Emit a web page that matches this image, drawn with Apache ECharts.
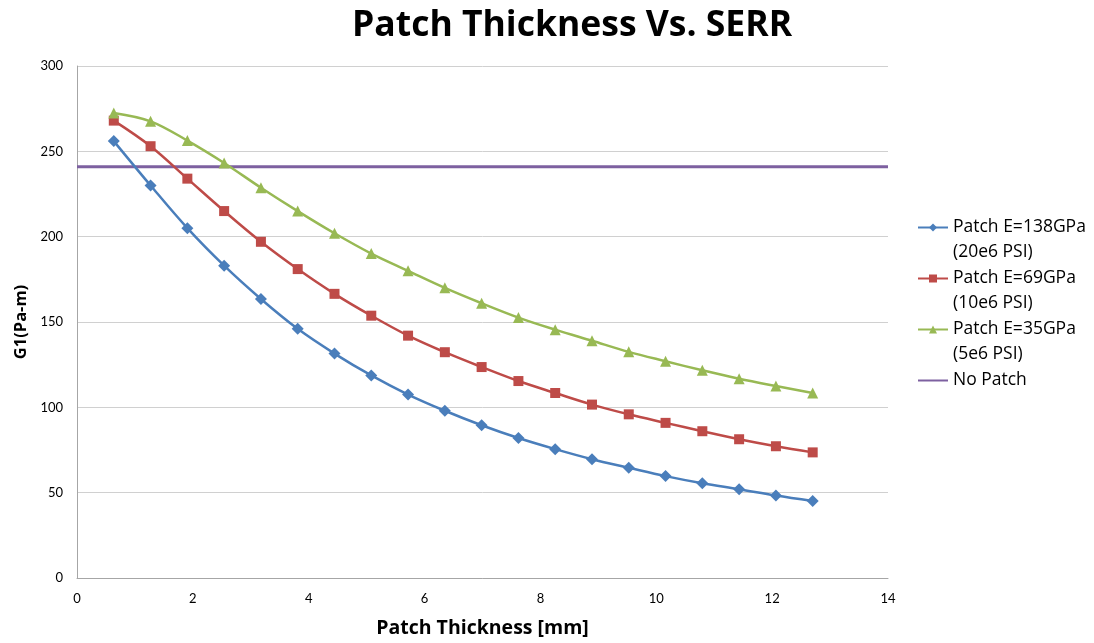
<!DOCTYPE html>
<html>
<head>
<meta charset="utf-8">
<title>Patch Thickness Vs. SERR</title>
<script src="https://cdn.jsdelivr.net/npm/echarts@6/dist/echarts.min.js"></script>
<style>
  html, body { margin: 0; padding: 0; background: #ffffff; }
  #chart { width: 1094px; height: 643px; }
</style>
</head>
<body>
<div id="chart"></div>
<script>
// Patch thickness in mm (0.025 in steps)
const thickness = [0.635, 1.27, 1.905, 2.54, 3.175, 3.81, 4.445, 5.08, 5.715, 6.35,
                   6.985, 7.62, 8.255, 8.89, 9.525, 10.16, 10.795, 11.43, 12.065, 12.7];

// Strain energy release rate G1 (Pa-m) for each patch stiffness
const g1E138 = [256, 230, 205, 183, 163.5, 146, 131.5, 118.7, 107.5, 98,
                89.5, 82, 75.5, 69.6, 64.6, 59.7, 55.5, 52, 48.3, 45.1];
const g1E69  = [268, 253, 234, 215, 197, 181, 166.5, 153.7, 142, 132.3,
                123.6, 115.4, 108.4, 101.6, 95.9, 90.9, 86, 81.3, 77.2, 73.6];
const g1E35  = [272.5, 267.6, 256.3, 243.2, 228.7, 215, 202, 190.1, 180, 170,
                161, 152.6, 145.5, 139, 132.5, 127, 121.7, 116.8, 112.5, 108.4];

// Unpatched reference level across the whole axis
const noPatchX = [0, 14];
const noPatchG1 = 241;

const seriesNames = ['Patch E=138GPa\n(20e6 PSI)', 'Patch E=69GPa\n(10e6 PSI)',
                     'Patch E=35GPa\n(5e6 PSI)', 'No Patch'];
const xTicks = { min: 0, max: 14, interval: 2 };
const yTicks = { min: 0, max: 300, interval: 50 };

const FONT = '"Open Sans", Lato, sans-serif';
const TICK_FONT = 'Lato, "Open Sans", sans-serif';
const pair = (xs, ys) => xs.map((x, i) => [x, ys[i]]);

const chart = echarts.init(document.getElementById('chart'), null, { renderer: 'canvas' });

function curve(name, values, color, symbol, size) {
  return {
    name: name,
    type: 'line',
    data: pair(thickness, values),
    smooth: 0.35,
    symbol: symbol,
    symbolSize: size,
    showAllSymbol: true,
    lineStyle: { color: color, width: 2.5 },
    itemStyle: { color: color },
    z: 3
  };
}

chart.setOption({
  animation: false,
  backgroundColor: '#ffffff',
  title: {
    text: 'Patch Thickness Vs. SERR',
    left: 347,
    top: 3,
    textStyle: { fontFamily: FONT, fontWeight: 'bold', fontSize: 35.5, color: '#000000' }
  },
  grid: { left: 77, right: 206, top: 66, bottom: 63, containLabel: false },
  legend: {
    orient: 'vertical',
    left: 917,
    top: 190,
    padding: 0,
    itemGap: -24,
    itemWidth: 30,
    itemHeight: 10,
    // a blank leading line keeps the first text line level with the icon
    formatter: function (name) {
      return name.indexOf('\n') >= 0 ? '\n' + name : '\n' + name + '\n';
    },
    textStyle: { fontFamily: FONT, fontSize: 17.5, color: '#000000', lineHeight: 25 },
    data: [
      seriesNames[0], seriesNames[1], seriesNames[2],
      { name: seriesNames[3], itemStyle: { opacity: 0 } }
    ]
  },
  xAxis: {
    type: 'value',
    min: xTicks.min, max: xTicks.max, interval: xTicks.interval,
    name: 'Patch Thickness [mm]',
    nameLocation: 'middle',
    nameGap: 40,
    nameTextStyle: { fontFamily: FONT, fontWeight: 'bold', fontSize: 19.5, color: '#000000' },
    axisLine: { show: true, lineStyle: { color: '#a6a6a6', width: 1 } },
    axisTick: { show: false },
    axisLabel: { fontFamily: TICK_FONT, fontSize: 13, color: '#000000', margin: 14 },
    splitLine: { show: false }
  },
  yAxis: {
    type: 'value',
    min: yTicks.min, max: yTicks.max, interval: yTicks.interval,
    name: 'G1(Pa-m)',
    nameLocation: 'middle',
    nameGap: 47,
    nameTextStyle: { fontFamily: FONT, fontWeight: 'bold', fontSize: 16.5, color: '#000000' },
    axisLine: { show: true, lineStyle: { color: '#a6a6a6', width: 1 } },
    axisTick: { show: false },
    axisLabel: { fontFamily: TICK_FONT, fontSize: 13, color: '#000000', margin: 14 },
    splitLine: { show: true, lineStyle: { color: '#d0d0d0', width: 1 } }
  },
  series: [
    curve(seriesNames[0], g1E138, '#4a7ebb', 'diamond', 12),
    curve(seriesNames[1], g1E69, '#be4b48', 'rect', 10),
    curve(seriesNames[2], g1E35, '#98b954', 'triangle', 11),
    {
      name: seriesNames[3],
      type: 'line',
      data: noPatchX.map(x => [x, noPatchG1]),
      symbol: 'none',
      lineStyle: { color: '#7d60a0', width: 3 },
      itemStyle: { color: '#7d60a0' },
      z: 2
    }
  ]
});
</script>
</body>
</html>
